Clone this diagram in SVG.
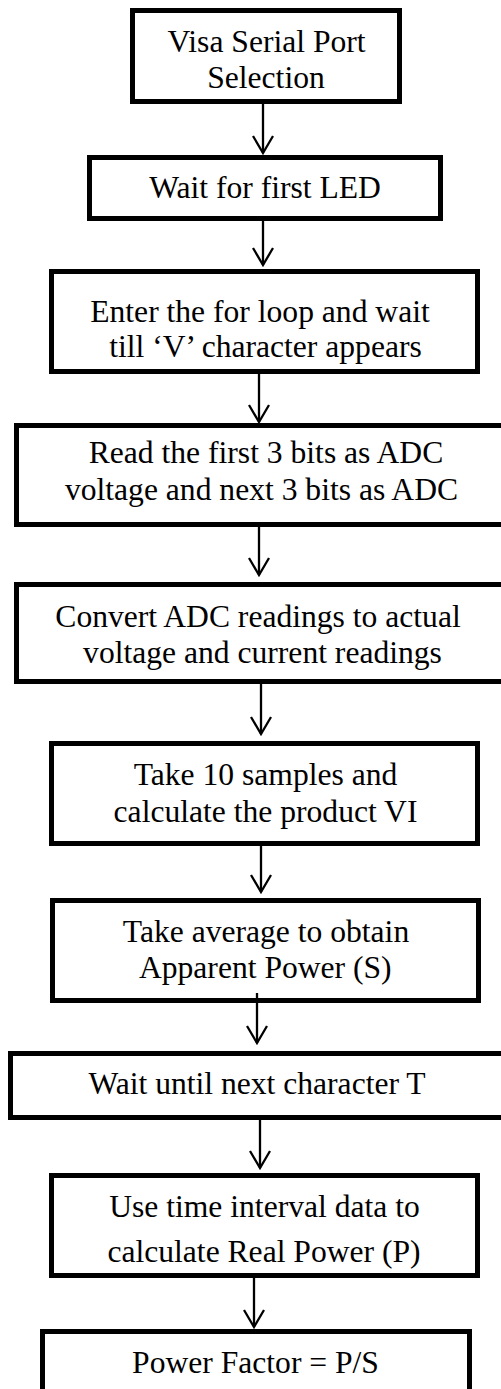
<svg xmlns="http://www.w3.org/2000/svg" width="501" height="1389" viewBox="0 0 501 1389">
<style>
.box{fill:#fff;stroke:#000;stroke-width:5}
.t{font-family:'Liberation Serif','Times New Roman',serif;font-size:31.6px;fill:#000;text-anchor:middle}
.c{stroke:#000;stroke-width:2.3;fill:none}
</style>
<defs>
<marker id="ah" markerUnits="userSpaceOnUse" viewBox="-20 -12 22 24" refX="0" refY="0" markerWidth="22" markerHeight="24" orient="auto">
<path d="M-17,-10 L0,0 L-17,10" fill="none" stroke="#000" stroke-width="2.3"/>
</marker>
</defs>
<rect width="501" height="1389" fill="#fff"/>
<g id="connectors">
<line class="c" x1="263" y1="104" x2="263" y2="153" marker-end="url(#ah)"/>
<line class="c" x1="263" y1="221" x2="263" y2="265" marker-end="url(#ah)"/>
<line class="c" x1="259" y1="374" x2="259" y2="422" marker-end="url(#ah)"/>
<line class="c" x1="259" y1="527" x2="259" y2="575" marker-end="url(#ah)"/>
<line class="c" x1="261" y1="684" x2="261" y2="734" marker-end="url(#ah)"/>
<line class="c" x1="261" y1="846" x2="261" y2="892" marker-end="url(#ah)"/>
<line class="c" x1="260" y1="1120" x2="260" y2="1168" marker-end="url(#ah)"/>
<line class="c" x1="254" y1="1278" x2="254" y2="1327" marker-end="url(#ah)"/>
</g>
<g id="n1"><rect class="box" x="132.5" y="10.5" width="267" height="91"/>
<text class="t" x="266.5" y="52">Visa Serial Port</text><text class="t" x="266" y="88">Selection</text></g>
<g id="n2"><rect class="box" x="89.5" y="157.5" width="351" height="61"/>
<text class="t" x="265" y="198">Wait for first LED</text></g>
<g id="n3"><rect class="box" x="51.5" y="271.5" width="426" height="100"/>
<text class="t" x="260" y="322">Enter the for loop and wait</text><text class="t" x="265.5" y="357">till ‘V’ character appears</text></g>
<g id="n4"><rect class="box" x="16.5" y="425.5" width="500" height="99"/>
<text class="t" x="266" y="463">Read the first 3 bits as ADC</text><text class="t" x="261.5" y="500">voltage and next 3 bits as ADC</text></g>
<g id="n5"><rect class="box" x="16.5" y="584.5" width="500" height="97"/>
<text class="t" x="258" y="627">Convert ADC readings to actual</text><text class="t" x="262.5" y="663">voltage and current readings</text></g>
<g id="n6"><rect class="box" x="51.5" y="743.5" width="426" height="100"/>
<text class="t" x="265.5" y="785">Take 10 samples and</text><text class="t" x="265.5" y="822">calculate the product VI</text></g>
<g id="n7"><rect class="box" x="52.5" y="900.5" width="426" height="100"/>
<text class="t" x="266" y="942">Take average to obtain</text><text class="t" x="265.3" y="978">Apparent Power (S)</text></g>
<line class="c" x1="257" y1="993" x2="257" y2="1043" marker-end="url(#ah)"/>
<g id="n8"><rect class="box" x="10.5" y="1053.5" width="500" height="64"/>
<text class="t" x="257" y="1094">Wait until next character T</text></g>
<g id="n9"><rect class="box" x="51.5" y="1175.5" width="426" height="100"/>
<text class="t" x="264.5" y="1217">Use time interval data to</text><text class="t" x="264" y="1262">calculate Real Power (P)</text></g>
<g id="n10"><rect class="box" x="42.5" y="1331.5" width="427" height="100"/>
<text class="t" x="255.5" y="1373">Power Factor = P/S</text></g>
</svg>
